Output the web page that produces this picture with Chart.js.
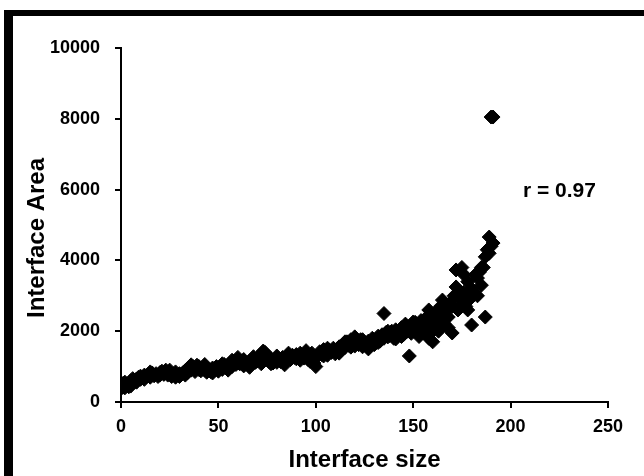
<!DOCTYPE html>
<html>
<head>
<meta charset="utf-8">
<script src="https://cdn.jsdelivr.net/npm/chart.js@4/dist/chart.umd.min.js"></script>
<style>
    html, body { margin: 0; padding: 0; background: #fff; }
    canvas { display: block; }
</style>
</head>
<body>
<canvas id="scatterChart" width="644" height="476"></canvas>
<script>
// interface size (x) and interface area (y)
const sizes = [
    0, 0, 1, 1, 2, 2, 3, 4, 4, 5, 6, 6, 7, 8, 8, 9, 10, 10,
    11, 12, 12, 13, 14, 15, 16, 16, 17, 18, 19, 20, 20,
    21, 22, 23, 23, 24, 25, 26, 27, 28, 29, 30, 30,
    31, 32, 33, 34, 35, 36, 37, 38, 38, 39, 40, 40,
    41, 42, 43, 44, 45, 46, 47, 48, 49, 50, 50,
    51, 52, 53, 54, 55, 56, 57, 58, 59, 60, 60,
    61, 62, 63, 64, 65, 66, 67, 68, 69, 70, 70,
    71, 72, 73, 74, 75, 76, 77, 78, 79, 80,
    81, 82, 83, 84, 85, 86, 87, 88, 89, 90, 90,
    91, 92, 93, 94, 95, 96, 97, 98, 99, 100, 100, 101,
    102, 103, 104, 105, 106, 107, 108, 109, 110, 110,
    111, 112, 113, 114, 115, 116, 117, 118, 119, 120, 120,
    121, 122, 123, 124, 125, 126, 127, 128, 129, 130, 130,
    131, 132, 133, 134, 135, 135, 136, 137, 138, 139, 140, 140,
    141, 142, 143, 144, 145, 146, 147, 148, 148, 149, 150, 150,
    151, 152, 153, 154, 155, 156, 157, 158, 158, 159, 160, 160, 161,
    162, 163, 164, 165, 165, 166, 167, 168, 169, 170, 170, 171,
    172, 172, 173, 174, 175, 176, 177, 178, 179, 180, 180,
    181, 182, 183, 184, 185, 186, 187, 187, 188, 189, 190, 191, 190, 191,
    5, 15, 25, 28, 33, 36, 43, 47, 52, 55, 57, 63, 66, 68, 72, 74, 77, 80,
    84, 86, 92, 95, 97, 104, 106, 112, 115, 118, 120, 124, 127, 129, 132,
    137, 141, 144, 146, 151, 153, 155, 157, 160, 162, 164, 166, 168,
    176, 178, 183, 185, 189
];
const areas = [
    380, 470, 420, 520, 400, 560, 470, 520, 430, 600, 560, 660, 620, 650, 560, 700, 640, 730,
    690, 760, 640, 720, 780, 700, 760, 820, 740, 800, 720, 830, 760,
    870, 780, 900, 820, 760, 800, 720, 780, 700, 760, 720, 800,
    780, 840, 880, 820, 940, 900, 1000, 960, 860, 1040, 920, 1000,
    880, 960, 900, 840, 920, 860, 960, 900, 1000, 940, 870,
    1000, 920, 1060, 980, 1040, 1100, 1000, 1150, 1060, 1260, 1100,
    1080, 1140, 1020, 1100, 1060, 1140, 1080, 1180, 1120, 1240, 1160,
    1300, 1200, 1440, 1280, 1200, 1140, 1220, 1100, 1180, 1120,
    1200, 1140, 1260, 1180, 1240, 1300, 1200, 1320, 1260, 1340, 1220,
    1280, 1380, 1300, 1240, 1340, 1200, 1300, 1380, 1100, 1000, 1260, 1300,
    1420, 1340, 1480, 1380, 1320, 1460, 1400, 1520, 1440, 1360,
    1500, 1560, 1460, 1620, 1540, 1700, 1600, 1760, 1660, 1840, 1580,
    1700, 1620, 1760, 1560, 1680, 1600, 1720, 1640, 1800, 1700, 1620,
    1780, 1860, 1720, 1900, 2500, 1800, 1960, 1840, 1880, 2000, 1800, 1920,
    2040, 1860, 1960, 2100, 1900, 2200, 2000, 1300, 2100, 1940, 2260, 2100,
    2000, 2200, 2100, 2300, 1960, 2200, 2400, 1800, 2600, 2100, 1700, 2300, 2500,
    2200, 2000, 2700, 2880, 2400, 2200, 2600, 2400, 2800, 1950, 2700, 3000,
    3730, 3250, 2600, 2900, 3800, 3100, 2700, 3400, 2900, 2175, 3200,
    3100, 3600, 3000, 3670, 3300, 3800, 4100, 2400, 4300, 4660, 4400, 4490, 8050, 8050,
    450, 850, 900, 850, 760, 1050, 1060, 820, 1080, 900, 1180, 1200, 980, 1280, 1080, 1400, 1080, 1300,
    1050, 1380, 1180, 1450, 1150, 1300, 1520, 1380, 1700, 1550, 1760, 1760, 1500, 1650, 1680,
    2000, 1780, 1850, 2050, 2250, 1850, 2150, 2000, 2000, 2450, 2300, 2600, 2100,
    3600, 2600, 3500, 3800, 4200
];
const xTicks = [0, 50, 100, 150, 200, 250];
const yTicks = [0, 2000, 4000, 6000, 8000, 10000];
const xTitle = 'Interface size';
const yTitle = 'Interface Area';
const note = 'r = 0.97';

const points = sizes.map((x, i) => ({ x: x, y: areas[i] }));
const fontFamily = '"Liberation Sans", Arial, sans-serif';

// black frame along top and left edge, y title and r note
const extras = {
    id: 'extras',
    beforeDraw: (chart) => {
        const ctx = chart.ctx;
        ctx.save();
        ctx.fillStyle = '#fff';
        ctx.fillRect(0, 0, chart.width, chart.height);
        ctx.fillStyle = '#000';
        ctx.fillRect(4, 10, chart.width - 4, 6);
        ctx.fillRect(4, 10, 9, chart.height - 10);
        ctx.restore();
    },
    afterDraw: (chart) => {
        const ctx = chart.ctx;
        const area = chart.chartArea;
        ctx.save();
        ctx.fillStyle = '#000';
        ctx.font = `bold 24px ${fontFamily}`;
        ctx.textAlign = 'center';
        ctx.textBaseline = 'middle';
        ctx.translate(37, (area.top + area.bottom) / 2 + 13);
        ctx.rotate(-Math.PI / 2);
        ctx.fillText(yTitle, 0, 0);
        ctx.restore();

        ctx.save();
        ctx.fillStyle = '#000';
        ctx.font = `bold 21px ${fontFamily}`;
        ctx.textAlign = 'left';
        ctx.textBaseline = 'alphabetic';
        ctx.fillText(note, 523, 197);
        ctx.restore();
    }
};

const tickFont = { family: fontFamily, size: 18, weight: 'bold' };

new Chart(document.getElementById('scatterChart').getContext('2d'), {
    type: 'scatter',
    data: {
        datasets: [{
            data: points,
            pointStyle: 'rectRot',
            pointRadius: 7,
            pointHoverRadius: 7,
            backgroundColor: '#000',
            borderColor: '#000',
            borderWidth: 1
        }]
    },
    options: {
        responsive: false,
        animation: false,
        devicePixelRatio: 1,
        layout: {
            padding: { left: 14, right: 36, top: 48, bottom: 0 }
        },
        plugins: {
            legend: { display: false },
            tooltip: { enabled: false }
        },
        scales: {
            x: {
                type: 'linear',
                min: 0,
                max: 250,
                afterFit: (scale) => { scale.height = 74; },
                afterBuildTicks: (scale) => { scale.ticks = xTicks.map(v => ({ value: v })); },
                ticks: { color: '#000', font: tickFont, padding: 8, callback: (v) => String(v) },
                grid: { drawOnChartArea: false, tickLength: 6, color: '#000', lineWidth: 2 },
                border: { color: '#000', width: 2 },
                title: {
                    display: true,
                    text: xTitle,
                    color: '#000',
                    font: { family: fontFamily, size: 24, weight: 'bold' },
                    padding: { top: 0, bottom: 1 }
                }
            },
            y: {
                type: 'linear',
                min: 0,
                max: 10000,
                afterFit: (scale) => { scale.width = 107; },
                afterBuildTicks: (scale) => { scale.ticks = yTicks.map(v => ({ value: v })); },
                ticks: { color: '#000', font: tickFont, padding: 15, callback: (v) => String(v) },
                grid: { drawOnChartArea: false, tickLength: 6, color: '#000', lineWidth: 2 },
                border: { color: '#000', width: 2 }
            }
        }
    },
    plugins: [extras]
});
</script>
</body>
</html>
